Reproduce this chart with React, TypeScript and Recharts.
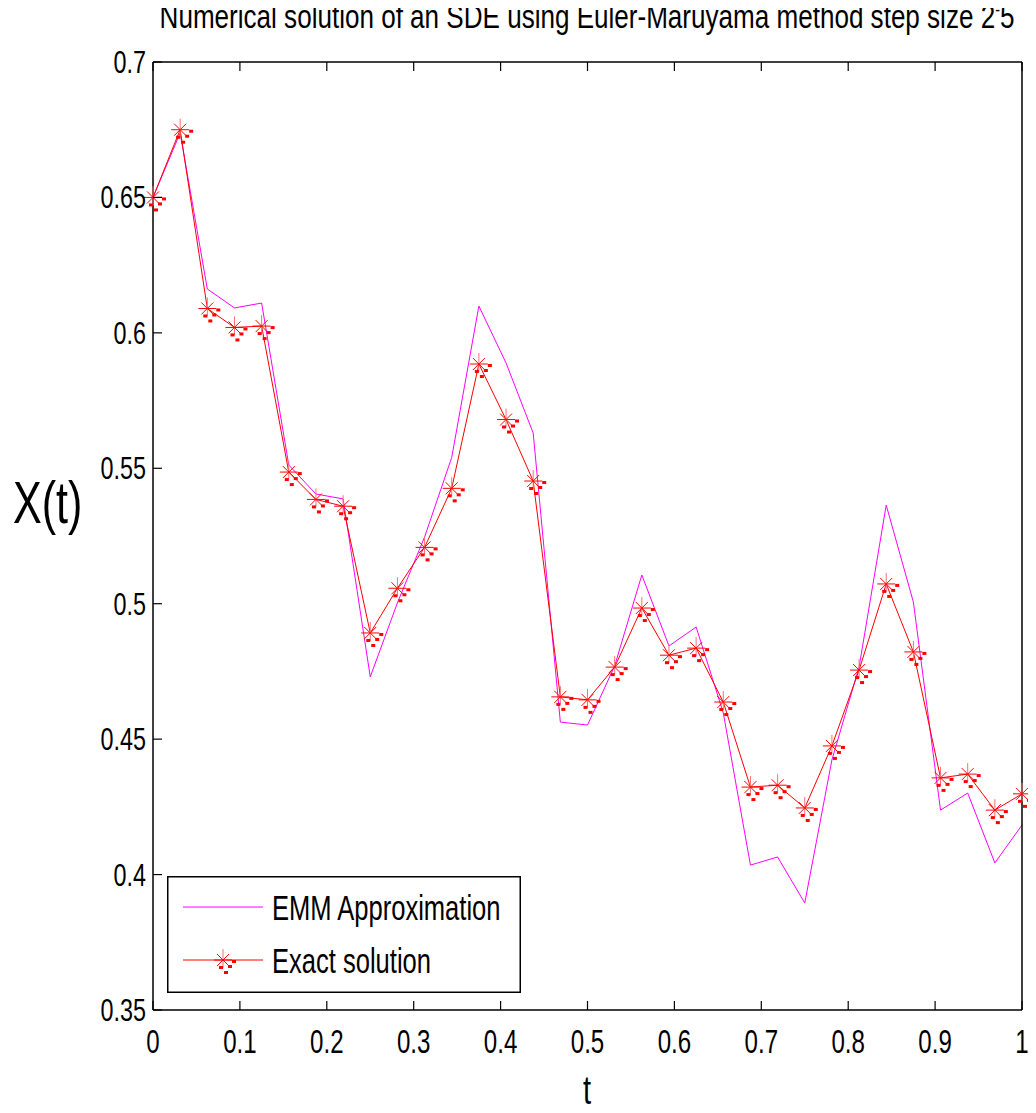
import React from 'react';
import { LineChart, Line, XAxis, YAxis, Legend } from 'recharts';

// time grid, step 2^-5
const tValues = [
  0, 0.03125, 0.0625, 0.09375, 0.125, 0.15625, 0.1875, 0.21875, 0.25, 0.28125, 0.3125,
  0.34375, 0.375, 0.40625, 0.4375, 0.46875, 0.5, 0.53125, 0.5625, 0.59375, 0.625,
  0.65625, 0.6875, 0.71875, 0.75, 0.78125, 0.8125, 0.84375, 0.875, 0.90625, 0.9375,
  0.96875, 1,
];

const emmValues = [
  0.65, 0.6738, 0.6162, 0.6092, 0.611, 0.5512, 0.5405, 0.5387, 0.473, 0.5003, 0.5246,
  0.554, 0.6099, 0.5889, 0.563, 0.4563, 0.4552, 0.477, 0.5106, 0.4844, 0.4914,
  0.4597, 0.4035, 0.4065, 0.3895, 0.4423, 0.4766, 0.5364, 0.5006, 0.4238, 0.4301,
  0.4043, 0.4183,
];

const exactValues = [
  0.65, 0.675, 0.609, 0.602, 0.6025, 0.5486, 0.5385, 0.536, 0.4892, 0.5057, 0.5208,
  0.5426, 0.5885, 0.568, 0.5453, 0.4656, 0.4645, 0.4766, 0.4984, 0.481, 0.4836,
  0.4637, 0.4323, 0.433, 0.4246, 0.4475, 0.4755, 0.5073, 0.4822, 0.4357, 0.4371,
  0.4238, 0.4298,
];

const xTicks = [0, 0.1, 0.2, 0.3, 0.4, 0.5, 0.6, 0.7, 0.8, 0.9, 1];
const yTicks = [0.35, 0.4, 0.45, 0.5, 0.55, 0.6, 0.65, 0.7];
const seriesNames = ['EMM Approximation', 'Exact solution'];

const data = tValues.map((t, i) => ({ t, emm: emmValues[i], exact: exactValues[i] }));

const FONT = '"Liberation Sans", Arial, sans-serif';
const SQUEEZE = 0.73; // the original text is narrow and a bit stretched
const EMM_COLOR = '#ff00ff';
const EXACT_COLOR = '#ff0000';
const TICK_LEN = 9;
const AXIS_LINE = { stroke: '#000', strokeWidth: 1.5 };

const fmt = (v: number) => String(Number(v.toFixed(2)));

function NarrowText({ x, y, size, anchor = 'start', sq = SQUEEZE, children }: any) {
  return (
    <text
      transform={`translate(${x},${y}) scale(${sq},1)`}
      fontFamily={FONT}
      fontSize={size}
      textAnchor={anchor}
      fill="#000"
    >
      {children}
    </text>
  );
}

const BottomTick = ({ x, y, payload }: any) => (
  <g>
    <line x1={x} y1={y} x2={x} y2={y - TICK_LEN} stroke="#000" strokeWidth={1.2} />
    <NarrowText x={x} y={y + 43} size={33} anchor="middle">{fmt(payload.value)}</NarrowText>
  </g>
);

const TopTick = ({ x, y }: any) => (
  <line x1={x} y1={y} x2={x} y2={y + TICK_LEN} stroke="#000" strokeWidth={1.2} />
);

const LeftTick = ({ x, y, payload }: any) => (
  <g>
    <line x1={x} y1={y} x2={x + TICK_LEN} y2={y} stroke="#000" strokeWidth={1.2} />
    <NarrowText x={x - 7} y={y + 11} size={32} anchor="end">{fmt(payload.value)}</NarrowText>
  </g>
);

const RightTick = ({ x, y }: any) => (
  <line x1={x} y1={y} x2={x - TICK_LEN} y2={y} stroke="#000" strokeWidth={1.2} />
);

// MATLAB style '*' marker, with the little speckles of the export
function StarMark({ cx, cy }: { cx: number; cy: number }) {
  return (
    <g stroke={EXACT_COLOR} strokeWidth={1}>
      <line x1={cx - 9} y1={cy} x2={cx + 9} y2={cy} />
      <line x1={cx} y1={cy - 11} x2={cx} y2={cy + 8} stroke="#ff7070" />
      <line x1={cx - 6} y1={cy - 6} x2={cx + 6} y2={cy + 6} />
      <line x1={cx - 6} y1={cy + 6} x2={cx + 6} y2={cy - 6} />
      <g fill={EXACT_COLOR} stroke="none">
        <rect x={cx + 9} y={cy} width={4} height={3} />
        <rect x={cx + 5} y={cy + 5} width={4} height={3} />
        <rect x={cx - 4} y={cy + 6} width={4} height={3} />
        <rect x={cx + 1} y={cy + 11} width={4} height={3} />
      </g>
    </g>
  );
}

const StarDot = (props: any) => {
  const { cx, cy, index } = props;
  if (cx == null || cy == null) return <g key={index} />;
  return <StarMark key={index} cx={cx} cy={cy} />;
};

const LegendBox = () => (
  <svg width={356} height={119} style={{ display: 'block', overflow: 'visible' }}>
    <rect x={0.75} y={0.75} width={352.5} height={115.5} fill="#fff" stroke="#000" strokeWidth={1.5} />
    <line x1={16} y1={31} x2={96} y2={31} stroke={EMM_COLOR} strokeWidth={1} />
    <NarrowText x={105} y={44} size={35}>{seriesNames[0]}</NarrowText>
    <line x1={16} y1={84} x2={96} y2={84} stroke={EXACT_COLOR} strokeWidth={1} />
    <StarMark cx={56} cy={84} />
    <NarrowText x={105} y={97} size={35}>{seriesNames[1]}</NarrowText>
  </svg>
);

export default function App() {
  return (
    <div style={{ width: 1028, height: 1105, position: 'relative', background: '#fff' }}>
      <LineChart
        width={1028}
        height={1105}
        data={data}
        margin={{ top: 53, right: 13, bottom: 102, left: 144 }}
      >
        <XAxis
          xAxisId="bottom"
          dataKey="t"
          type="number"
          domain={[0, 1]}
          ticks={xTicks}
          height={1}
          tickSize={0}
          tickMargin={0}
          tick={<BottomTick />}
          tickLine={false}
          axisLine={AXIS_LINE}
          interval={0}
        />
        <XAxis
          xAxisId="top"
          orientation="top"
          dataKey="t"
          type="number"
          domain={[0, 1]}
          ticks={xTicks}
          height={1}
          tickSize={0}
          tickMargin={0}
          tick={<TopTick />}
          tickLine={false}
          axisLine={AXIS_LINE}
          interval={0}
        />
        <YAxis
          yAxisId="left"
          type="number"
          domain={[0.35, 0.7]}
          ticks={yTicks}
          width={1}
          tickSize={0}
          tickMargin={0}
          tick={<LeftTick />}
          tickLine={false}
          axisLine={AXIS_LINE}
          interval={0}
        />
        <YAxis
          yAxisId="right"
          orientation="right"
          type="number"
          domain={[0.35, 0.7]}
          ticks={yTicks}
          width={1}
          tickSize={0}
          tickMargin={0}
          tick={<RightTick />}
          tickLine={false}
          axisLine={AXIS_LINE}
          interval={0}
        />
        <Line
          xAxisId="bottom"
          yAxisId="left"
          type="linear"
          dataKey="emm"
          name={seriesNames[0]}
          stroke={EMM_COLOR}
          strokeWidth={1}
          dot={false}
          isAnimationActive={false}
        />
        <Line
          xAxisId="bottom"
          yAxisId="left"
          type="linear"
          dataKey="exact"
          name={seriesNames[1]}
          stroke={EXACT_COLOR}
          strokeWidth={1}
          dot={StarDot}
          activeDot={false}
          isAnimationActive={false}
        />
        <Legend
          layout="horizontal"
          verticalAlign="middle"
          wrapperStyle={{ left: 159, top: 868, width: 356, height: 119 }}
          content={() => <LegendBox />}
        />
      </LineChart>
      <svg
        width={1028}
        height={1105}
        style={{ position: 'absolute', left: 0, top: 0, pointerEvents: 'none', overflow: 'visible' }}
      >
        <NarrowText x={579} y={20} size={33} sq={0.79} anchor="middle">
          Numerical solution of an SDE using Euler-Maruyama method step size 2
          <tspan dy={-12} fontSize={18}>-</tspan>
          <tspan dy={12}>5</tspan>
        </NarrowText>
        <NarrowText x={5} y={515} size={59}>X(t)</NarrowText>
        <NarrowText x={579} y={1096} size={40} anchor="middle">t</NarrowText>
      </svg>
    </div>
  );
}
